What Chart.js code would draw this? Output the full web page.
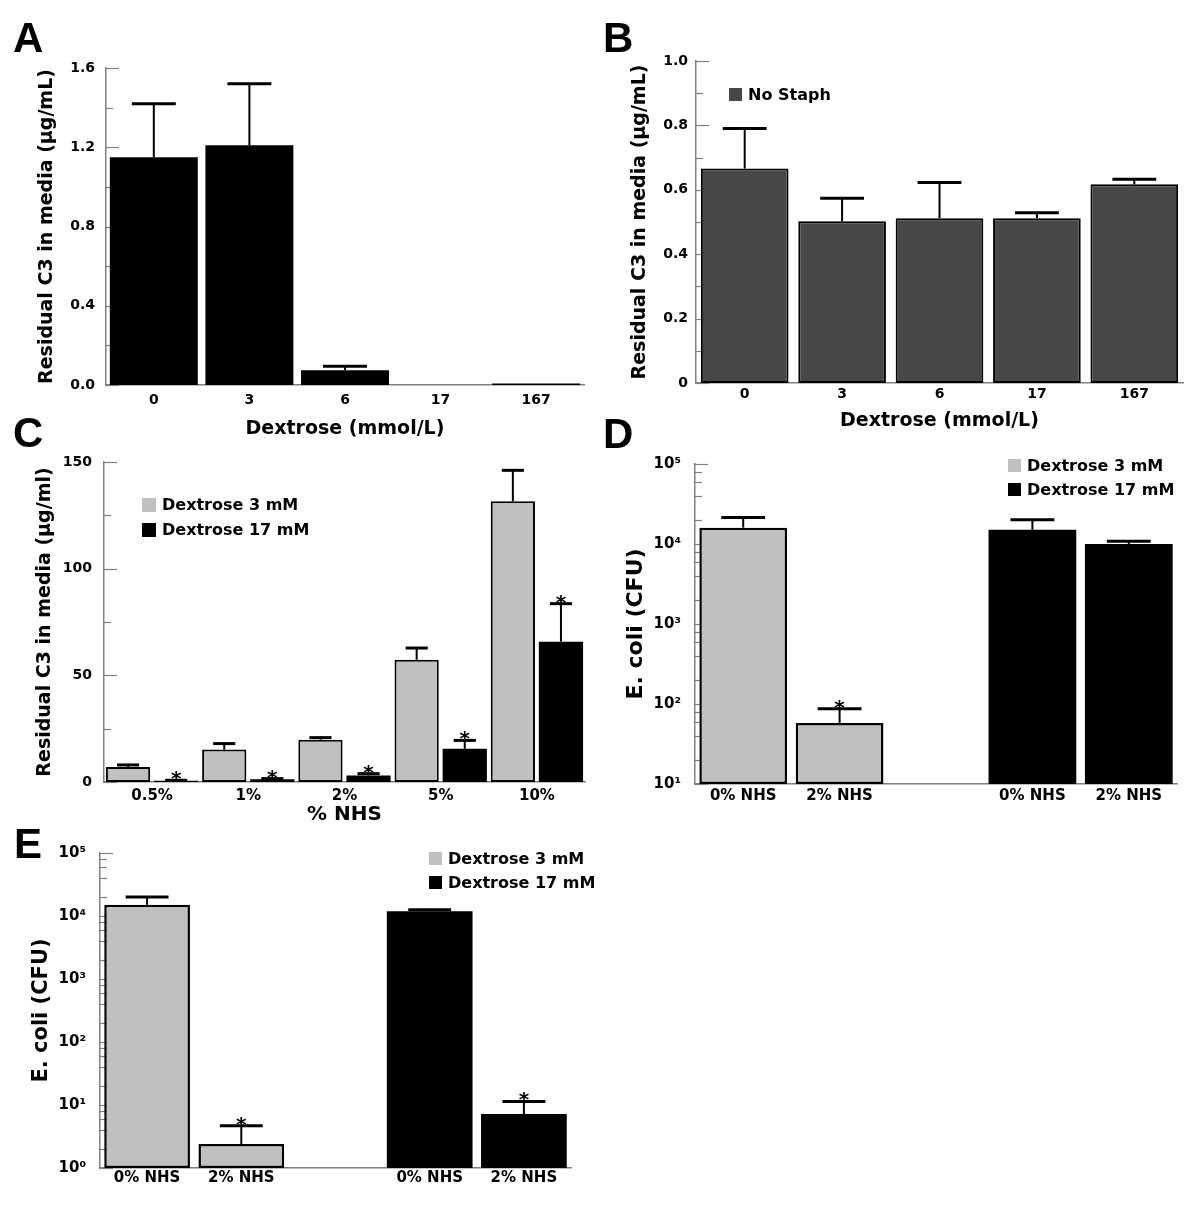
<!DOCTYPE html>
<html>
<head>
<meta charset="utf-8">
<script src="https://cdn.jsdelivr.net/npm/chart.js@4.4.1/dist/chart.umd.min.js"></script>
<style>
  body { margin: 0; background: #fff; width: 1200px; height: 1206px; position: relative; overflow: hidden; }
  canvas { position: absolute; }
</style>
</head>
<body>
<canvas id="chartA" width="600" height="445" style="left:0;top:0"></canvas>
<canvas id="chartB" width="600" height="440" style="left:600px;top:0"></canvas>
<canvas id="chartC" width="600" height="425" style="left:0;top:405px"></canvas>
<canvas id="chartD" width="600" height="420" style="left:600px;top:400px"></canvas>
<canvas id="chartE" width="620" height="386" style="left:0;top:820px"></canvas>
<script>
// Panel A / B: residual C3 vs dextrose
const dextroseLabels = ['0', '3', '6', '17', '167'];
const c3Staph = [1.15, 1.21, 0.074, 0, 0.008];
const c3StaphErr = [0.27, 0.31, 0.021, 0, 0];
const c3NoStaph = [0.666, 0.502, 0.512, 0.512, 0.617];
const c3NoStaphErr = [0.124, 0.072, 0.111, 0.017, 0.016];

// Panel C: residual C3 vs % NHS
const nhsLabels = ['0.5%', '1%', '2%', '5%', '10%'];
const c3Dex3 = [7.0, 15.2, 19.8, 57.3, 131.6];
const c3Dex3Err = [1.0, 2.8, 1.0, 5.5, 14.5];
const c3Dex17 = [0.6, 1.25, 3.1, 15.6, 65.8];
const c3Dex17Err = [0.2, 0.35, 0.8, 3.9, 17.8];
const c3Dex17Star = [true, true, true, true, true];

// Panel D / E: E. coli CFU
const cfuLabels = ['0% NHS', '2% NHS', '', '0% NHS', '2% NHS'];
const cfuD_dex3 = [16000, 58, null, null, null];
const cfuD_dex3Err = [5500, 29, null, null, null];
const cfuD_dex3Star = [false, true, false, false, false];
const cfuD_dex17 = [null, null, null, 15100, 10000];
const cfuD_dex17Err = [null, null, null, 5000, 800];
const cfuE_dex3 = [15100, 2.4, null, null, null];
const cfuE_dex3Err = [4900, 2.3, null, null, null];
const cfuE_dex3Star = [false, true, false, false, false];
const cfuE_dex17 = [null, null, null, 11900, 7.2];
const cfuE_dex17Err = [null, null, null, 700, 4.2];
const cfuE_dex17Star = [false, false, false, false, true];

const GRAY = '#c0c0c0';
const AXIS = '#808080';
const FONT = "'DejaVu Sans', Verdana, sans-serif";

Chart.defaults.font.family = FONT;
Chart.defaults.font.weight = 'bold';
Chart.defaults.color = '#000';

// error bars + significance stars
const errorBars = {
  id: 'errorBars',
  afterDatasetsDraw(chart) {
    const ctx = chart.ctx;
    const y = chart.scales.y;
    chart.data.datasets.forEach((ds, di) => {
      if (!ds.errors) return;
      const meta = chart.getDatasetMeta(di);
      meta.data.forEach((bar, i) => {
        const v = ds.data[i];
        if (v == null) return;
        const e = ds.errors[i] || 0;
        const top = y.getPixelForValue(v + e);
        const half = bar.width / 4;
        ctx.save();
        ctx.strokeStyle = '#000';
        if (e) {
          ctx.lineWidth = 2;
          ctx.beginPath();
          ctx.moveTo(bar.x, bar.y);
          ctx.lineTo(bar.x, top);
          ctx.stroke();
          ctx.lineWidth = 3;
          ctx.beginPath();
          ctx.moveTo(bar.x - half, top);
          ctx.lineTo(bar.x + half, top);
          ctx.stroke();
        }
        if (ds.stars && ds.stars[i]) {
          ctx.fillStyle = '#000';
          ctx.font = 'bold 20px ' + FONT;
          ctx.textAlign = 'center';
          ctx.textBaseline = 'alphabetic';
          ctx.fillText('*', bar.x, top + 5);
        }
        ctx.restore();
      });
    });
  }
};

// tick marks pointing into the plot
const innerTicks = {
  id: 'innerTicks',
  beforeDatasetsDraw(chart) {
    const s = chart.scales.y;
    const ctx = chart.ctx;
    ctx.save();
    ctx.strokeStyle = AXIS;
    ctx.lineWidth = 1.2;
    s.ticks.forEach(t => {
      const py = Math.round(s.getPixelForValue(t.value)) + 0.5;
      const len = t.label ? 13 : 7;
      ctx.beginPath();
      ctx.moveTo(s.right, py);
      ctx.lineTo(s.right + len, py);
      ctx.stroke();
    });
    ctx.restore();
  }
};

const boxLegend = {
  id: 'boxLegend',
  afterDraw(chart, args, opts) {
    if (opts.x == null) return;
    const ctx = chart.ctx;
    ctx.save();
    ctx.font = 'bold 16px ' + FONT;
    ctx.textBaseline = 'middle';
    chart.data.datasets.forEach((ds, i) => {
      const y = opts.y + i * opts.gap;
      ctx.fillStyle = ds.backgroundColor;
      ctx.fillRect(opts.x, y, opts.size, opts.size);
      ctx.fillStyle = '#000';
      ctx.fillText(ds.label, opts.x + opts.size + 6, y + opts.size / 2 + 1);
    });
    ctx.restore();
  }
};

const panelLetter = {
  id: 'panelLetter',
  afterDraw(chart, args, opts) {
    if (!opts.text) return;
    const ctx = chart.ctx;
    ctx.save();
    ctx.font = "bold 42px 'Liberation Sans', Arial, sans-serif";
    ctx.fillStyle = '#000';
    ctx.textBaseline = 'alphabetic';
    ctx.fillText(opts.text, opts.x, opts.y);
    ctx.restore();
  }
};

Chart.register(errorBars, innerTicks, boxLegend, panelLetter);

const sup = ['\u2070', '\u00b9', '\u00b2', '\u00b3', '\u2074', '\u2075'];

function logTicks(scale) {
  const lo = Math.round(Math.log10(scale.min));
  const hi = Math.round(Math.log10(scale.max));
  const t = [];
  for (let p = lo; p < hi; p++) {
    [1, 2, 4, 6, 8].forEach(m => t.push({ value: m * Math.pow(10, p) }));
  }
  t.push({ value: Math.pow(10, hi) });
  scale.ticks = t;
}

function powLabel(v) {
  const p = Math.log10(v);
  return Math.abs(p - Math.round(p)) < 1e-6 ? '10' + sup[Math.round(p)] : '';
}

function panel(id, cfg) {
  const yScale = Object.assign({
    grid: { display: false, drawTicks: false },
    border: { color: AXIS, width: 1.5 },
    afterFit: s => { s.width = cfg.yWidth; }
  }, cfg.y);
  yScale.ticks = Object.assign({ autoSkip: false }, cfg.y.ticks);
  const xScale = {
    grid: { display: false, drawTicks: false },
    border: { color: AXIS, width: 1.5 },
    ticks: Object.assign({ autoSkip: false, maxRotation: 0 }, cfg.xTicks),
    title: cfg.xTitle || { display: false },
    afterFit: s => { s.height = cfg.xHeight; }
  };
  return new Chart(document.getElementById(id), {
    type: 'bar',
    data: { labels: cfg.labels, datasets: cfg.datasets },
    options: {
      responsive: false,
      animation: false,
      layout: { padding: { top: cfg.top, right: cfg.right, left: 0, bottom: 0 } },
      plugins: {
        legend: { display: false },
        tooltip: { enabled: false },
        boxLegend: cfg.legend || {},
        panelLetter: cfg.letter
      },
      scales: { x: xScale, y: yScale }
    }
  });
}

panel('chartA', {
  labels: dextroseLabels,
  top: 68, right: 16, yWidth: 106, xHeight: 60,
  letter: { text: 'A', x: 13, y: 52 },
  datasets: [{
    label: 'Staph', data: c3Staph, errors: c3StaphErr,
    backgroundColor: '#000', borderColor: '#000', borderWidth: 0,
    barPercentage: 0.92, categoryPercentage: 1
  }],
  y: {
    min: 0, max: 1.6,
    ticks: { stepSize: 0.2, padding: 11, font: { size: 14 },
      callback: v => (Math.round(v * 10) % 4 === 0 ? v.toFixed(1) : '') },
    title: { display: true, text: 'Residual C3 in media (\u03bcg/mL)', font: { size: 19 }, padding: { top: 36, bottom: 0 } }
  },
  xTicks: { font: { size: 14 }, padding: 7 },
  xTitle: { display: true, text: 'Dextrose (mmol/L)', font: { size: 19 }, padding: { top: 0, bottom: 5 } }
});

panel('chartB', {
  labels: dextroseLabels,
  top: 61, right: 17, yWidth: 96, xHeight: 57,
  letter: { text: 'B', x: 3, y: 52 },
  legend: { x: 129, y: 88, size: 13, gap: 24 },
  datasets: [{
    label: 'No Staph', data: c3NoStaph, errors: c3NoStaphErr,
    backgroundColor: '#474747', borderColor: '#000', borderWidth: 2, borderSkipped: false,
    barPercentage: 0.9, categoryPercentage: 1
  }],
  y: {
    min: 0, max: 1.0,
    ticks: { stepSize: 0.1, padding: 8, font: { size: 14 },
      callback: v => { const k = Math.round(v * 10); return k % 2 ? '' : (k === 0 ? '0' : v.toFixed(1)); } },
    title: { display: true, text: 'Residual C3 in media (\u03bcg/mL)', font: { size: 19 }, padding: { top: 29, bottom: 0 } }
  },
  xTicks: { font: { size: 14 }, padding: 3 },
  xTitle: { display: true, text: 'Dextrose (mmol/L)', font: { size: 19 }, padding: { top: 0, bottom: 8 } }
});

panel('chartC', {
  labels: nhsLabels,
  top: 57, right: 15, yWidth: 104, xHeight: 48,
  letter: { text: 'C', x: 13, y: 42 },
  legend: { x: 142, y: 93, size: 14, gap: 25 },
  datasets: [{
    label: 'Dextrose 3 mM', data: c3Dex3, errors: c3Dex3Err,
    backgroundColor: GRAY, borderColor: '#000', borderWidth: 2, borderSkipped: false,
    barPercentage: 0.92, categoryPercentage: 1
  }, {
    label: 'Dextrose 17 mM', data: c3Dex17, errors: c3Dex17Err, stars: c3Dex17Star,
    backgroundColor: '#000', borderColor: '#000', borderWidth: 0,
    barPercentage: 0.92, categoryPercentage: 1
  }],
  y: {
    min: 0, max: 150,
    ticks: { stepSize: 25, padding: 12, font: { size: 14 },
      callback: v => (v % 50 === 0 ? String(v) : '') },
    title: { display: true, text: 'Residual C3 in media (\u03bcg/ml)', font: { size: 19 }, padding: { top: 34, bottom: 0 } }
  },
  xTicks: { font: { size: 15 }, padding: 5 },
  xTitle: { display: true, text: '% NHS', font: { size: 20 }, padding: { top: 0, bottom: 3 } }
});

panel('chartD', {
  labels: cfuLabels,
  top: 64, right: 23, yWidth: 95, xHeight: 36,
  letter: { text: 'D', x: 3, y: 48 },
  legend: { x: 408, y: 59, size: 13, gap: 24 },
  datasets: [{
    label: 'Dextrose 3 mM', data: cfuD_dex3, errors: cfuD_dex3Err, stars: cfuD_dex3Star,
    backgroundColor: GRAY, borderColor: '#000', borderWidth: 2.5, borderSkipped: false,
    grouped: false, barPercentage: 0.91, categoryPercentage: 1
  }, {
    label: 'Dextrose 17 mM', data: cfuD_dex17, errors: cfuD_dex17Err,
    backgroundColor: '#000', borderColor: '#000', borderWidth: 0,
    grouped: false, barPercentage: 0.91, categoryPercentage: 1
  }],
  y: {
    type: 'logarithmic', min: 10, max: 100000,
    afterBuildTicks: logTicks,
    ticks: { padding: 14, font: { size: 15 }, callback: powLabel },
    title: { display: true, text: 'E. coli (CFU)', font: { size: 22 }, padding: { top: 23, bottom: 0 } }
  },
  xTicks: { font: { size: 15 }, padding: 3 }
});

panel('chartE', {
  labels: cfuLabels,
  top: 33, right: 49, yWidth: 100, xHeight: 38,
  letter: { text: 'E', x: 14, y: 38 },
  legend: { x: 429, y: 32, size: 13, gap: 24 },
  datasets: [{
    label: 'Dextrose 3 mM', data: cfuE_dex3, errors: cfuE_dex3Err, stars: cfuE_dex3Star,
    backgroundColor: GRAY, borderColor: '#000', borderWidth: 2.5, borderSkipped: false,
    grouped: false, barPercentage: 0.91, categoryPercentage: 1
  }, {
    label: 'Dextrose 17 mM', data: cfuE_dex17, errors: cfuE_dex17Err, stars: cfuE_dex17Star,
    backgroundColor: '#000', borderColor: '#000', borderWidth: 0,
    grouped: false, barPercentage: 0.91, categoryPercentage: 1
  }],
  y: {
    type: 'logarithmic', min: 1, max: 100000,
    afterBuildTicks: logTicks,
    ticks: { padding: 14, font: { size: 15 }, callback: powLabel },
    title: { display: true, text: 'E. coli (CFU)', font: { size: 21 }, padding: { top: 29, bottom: 0 } }
  },
  xTicks: { font: { size: 15 }, padding: 1 }
});
</script>
</body>
</html>
